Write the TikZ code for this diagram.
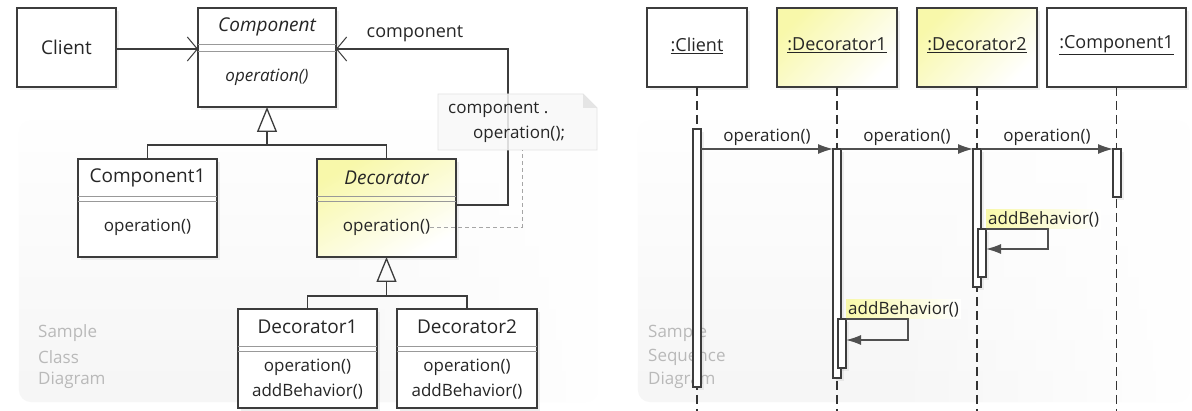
\documentclass[tikz,border=0pt]{standalone}
\usepackage{fontspec}
\setmainfont{Open Sans}
\usetikzlibrary{arrows.meta,shadows,fadings,calc}
\definecolor{decoY}{RGB}{248,248,170}
\definecolor{lineC}{RGB}{60,60,60}
\definecolor{msgC}{RGB}{80,80,80}
\newcommand\NmFont{\fontsize{19}{22}\selectfont}
\newcommand\SqFont{\fontsize{18}{22}\selectfont}
\newcommand\OpFont{\fontsize{17}{20}\selectfont}
\begin{document}
\begin{tikzpicture}[x=1pt,y=-1pt,
  box/.style={draw=lineC, line width=1.3pt, fill=white, anchor=north west, inner sep=0pt, outer sep=0pt,
    drop shadow={opacity=0.12, shadow xshift=3pt, shadow yshift=-3pt}},
  ybox/.style={box, top color=decoY, bottom color=white, shading angle=30},
  txt/.style={inner sep=0pt, font=\OpFont, text=black!85},
  nm/.style={inner sep=0pt, font=\NmFont, text=black!85},
  sq/.style={inner sep=0pt, font=\SqFont, text=black!85},
  divider/.style={draw=gray!80, line width=0.8pt},
  assoc/.style={draw=lineC, line width=1.3pt, -{Straight Barb[length=10pt,width=24pt,line width=1pt]}},
  gen/.style={draw=lineC, line width=1.3pt, -{Triangle[open,length=25pt,width=20pt,line width=1.3pt]}},
  plain/.style={draw=lineC, line width=1.3pt},
  notelink/.style={draw=gray!70, line width=0.9pt, dash pattern=on 4pt off 3pt},
  life/.style={draw=black!80, line width=1.3pt, dash pattern=on 9pt off 5pt},
  act/.style={draw=lineC, line width=1.2pt, fill=white, anchor=north west, minimum width=8pt, inner sep=0pt, outer sep=0pt,
    drop shadow={opacity=0.12, shadow xshift=3pt, shadow yshift=-3pt}},
  msg/.style={draw=msgC, line width=1.3pt, -{Latex[length=15pt,width=10pt]}},
  behlab/.style={inner sep=2pt, font=\OpFont, text=black!85, left color=decoY, right color=white},
  sampletxt/.style={inner sep=0pt, anchor=west, font=\fontsize{17}{20}\selectfont, text=gray!55}
]
\useasboundingbox (0,0) rectangle (1192,411);
\fill[white] (0,0) rectangle (1192,411);

% panel backgrounds
\fill[gray!7, rounded corners=12pt, path fading=north] (19,120) rectangle (598,402);
\fill[gray!7, rounded corners=12pt, path fading=north] (638,120) rectangle (1190,402);
\fill[white, path fading=west] (300,100) rectangle (598,403);
\fill[white, path fading=west] (880,100) rectangle (1190,403);

% ---------------- class diagram ----------------
\node[sampletxt] (s1) at (38,333) {Sample};
\node[sampletxt] (s2) at (38,357) {Class};
\node[sampletxt] (s3) at (38,380) {Diagram};

\node[box, minimum width=99pt, minimum height=79pt] (client) at (17,8) {};
\node[nm] (clientname) at (client.center) {Client};

\node[box, minimum width=138pt, minimum height=99pt] (comp) at (198,8) {};
\node[nm, font=\NmFont\itshape] (compname) at (267,27) {Component};
\draw[divider] (comp.west |- 0,44) -- (comp.east |- 0,44);
\draw[divider] (comp.west |- 0,51) -- (comp.east |- 0,51);
\node[txt, font=\OpFont\itshape] (compop) at (267,77) {operation()};

\node[box, minimum width=139pt, minimum height=98pt] (c1) at (78,159) {};
\node[nm] (c1name) at (147.5,178) {Component1};
\draw[divider] (c1.west |- 0,196) -- (c1.east |- 0,196);
\draw[divider] (c1.west |- 0,201) -- (c1.east |- 0,201);
\node[txt] (c1op) at (147.5,227) {operation()};

\node[ybox, minimum width=139pt, minimum height=98pt] (deco) at (317,159) {};
\node[nm, font=\NmFont\itshape] (deconame) at (386.5,178) {Decorator};
\draw[divider] (deco.west |- 0,196) -- (deco.east |- 0,196);
\draw[divider] (deco.west |- 0,201) -- (deco.east |- 0,201);
\node[txt] (decoop) at (386.5,227) {operation()};

\node[box, minimum width=139pt, minimum height=99pt] (d1) at (238,309) {};
\node[nm] (d1name) at (307.5,327) {Decorator1};
\draw[divider] (d1.west |- 0,346) -- (d1.east |- 0,346);
\draw[divider] (d1.west |- 0,351) -- (d1.east |- 0,351);
\node[txt] (d1op) at (307.5,367) {operation()};
\node[txt] (d1ab) at (307.5,391) {addBehavior()};

\node[box, minimum width=140pt, minimum height=99pt] (d2) at (397,309) {};
\node[nm] (d2name) at (467,327) {Decorator2};
\draw[divider] (d2.west |- 0,346) -- (d2.east |- 0,346);
\draw[divider] (d2.west |- 0,351) -- (d2.east |- 0,351);
\node[txt] (d2op) at (467,367) {operation()};
\node[txt] (d2ab) at (467,391) {addBehavior()};

% client -> component
\draw[assoc] (client.east |- 0,49) -- (comp.west |- 0,49);

% association component
\coordinate (bendT) at (508,49);
\coordinate (bendB) at (508,205);
\draw[assoc] (bendB -| deco.east) -- (bendB) -- (bendT) -- (bendT -| comp.east);
\node[txt, font=\fontsize{18}{20}\selectfont] (assoclab) at (415,34) {component};

% generalizations
\coordinate (hub1) at (267,145);
\draw[gen] (c1.north) |- (hub1) -- (comp.south);
\draw[plain] (deco.north) |- (hub1);
\coordinate (hub2) at (386.5,296);
\draw[gen] (d1.north) |- (hub2) -- (deco.south);
\draw[plain] (d2.north) |- (hub2);

% note
\node[minimum width=159pt, minimum height=56pt, anchor=north west, inner sep=0pt, outer sep=0pt] (note) at (438,94) {};
\fill[gray!5, opacity=0.85] (note.north west) -- ($(note.north east)+(-14,0)$) -- ($(note.north east)+(0,14)$) -- (note.south east) -- (note.south west) -- cycle;
\draw[gray!22, line width=0.8pt] (note.north west) -- ($(note.north east)+(-14,0)$) -- ($(note.north east)+(0,14)$) -- (note.south east) -- (note.south west) -- cycle;
\fill[gray!20] ($(note.north east)+(-14,0)$) -- ($(note.north east)+(-14,14)$) -- ($(note.north east)+(0,14)$) -- cycle;
\node[txt, anchor=west] (notel1) at (448,110) {component .};
\node[txt, anchor=west] (notel2) at (473,134) {operation();};
\coordinate (nd) at (522,227);
\draw[notelink] (decoop.east) -- (nd) -- (nd |- note.south);

% ---------------- sequence diagram ----------------
\node[sampletxt] (q1) at (648,333) {Sample};
\node[sampletxt] (q2) at (648,357) {Sequence};
\node[sampletxt] (q3) at (648,380) {Diagram};

\node[box, minimum width=100pt, minimum height=79pt] (sc) at (647,8) {};
\node[sq] (scname) at ([yshift=2pt]sc.center) {\underline{:Client}};
\node[ybox, minimum width=120pt, minimum height=79pt, shading angle=45] (sd1) at (777,8) {};
\node[sq] (sd1name) at ([yshift=2pt]sd1.center) {\underline{:Decorator1}};
\node[ybox, minimum width=120pt, minimum height=79pt, shading angle=45] (sd2) at (917,8) {};
\node[sq] (sd2name) at ([yshift=2pt]sd2.center) {\underline{:Decorator2}};
\node[box, minimum width=139pt, minimum height=79pt] (sc1) at (1047,8) {};
\node[sq] (sc1name) at ([yshift=2pt]sc1.center) {\underline{:Component1}};

\coordinate (bot) at (0,411);
\draw[life] (sc.south) -- (sc.south |- bot);
\draw[life] (sd1.south) -- (sd1.south |- bot);
\draw[life] (sd2.south) -- (sd2.south |- bot);
\draw[life] (sc1.south) -- (sc1.south |- bot);

% activations
\node[act, minimum height=258pt] (ac) at (693,129) {};
\node[act, minimum height=229pt] (a1) at (833,149) {};
\node[act, minimum height=49pt] (a1n) at (838,319) {};
\node[act, minimum height=138pt] (a2) at (973,149) {};
\node[act, minimum height=48pt] (a2n) at (978,229) {};
\node[act, minimum height=48pt] (a3) at (1113,149) {};

% messages
\draw[msg] (ac.east |- a1.north) -- node[txt, above=3pt] (m1) {operation()} (a1.north west);
\draw[msg] (a1.north east) -- node[txt, above=3pt] (m2) {operation()} (a2.north west);
\draw[msg] (a2.north east) -- node[txt, above=3pt] (m3) {operation()} (a3.north west);

% self calls
\node[behlab, anchor=south west] (b2) at (a2n.north east) {addBehavior()};
\coordinate (r2t) at (1048,229);
\coordinate (r2b) at (1048,249);
\draw[msg] (a2n.north east) -- (r2t) -- (r2b) -- (r2b -| a2n.east);

\node[behlab, anchor=south west] (b1) at (a1n.north east) {addBehavior()};
\coordinate (r1t) at (908,319);
\coordinate (r1b) at (908,340);
\draw[msg] (a1n.north east) -- (r1t) -- (r1b) -- (r1b -| a1n.east);
\end{tikzpicture}
\end{document}
